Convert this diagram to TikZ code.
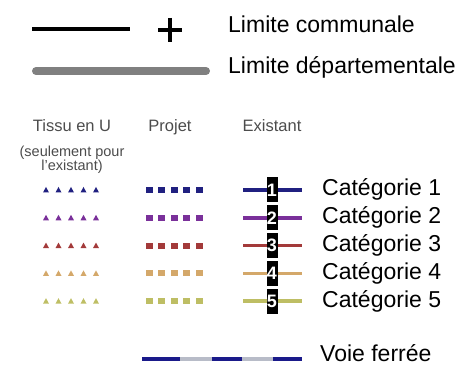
\documentclass[tikz,border=0pt]{standalone}
\usepackage{fontspec}
\setmainfont{Liberation Sans}
\usetikzlibrary{positioning}
\def\rowsep{27.8}
\def\firstrow{190}

\definecolor{catA}{RGB}{32,32,128}
\definecolor{catB}{RGB}{122,48,154}
\definecolor{catC}{RGB}{163,58,58}
\definecolor{catD}{RGB}{212,168,106}
\definecolor{catE}{RGB}{190,190,100}
\definecolor{railblue}{RGB}{26,26,138}
\definecolor{railgray}{RGB}{184,188,200}

\begin{document}
\begin{tikzpicture}[x=1pt,y=-1pt]
	\tikzstyle{label text}=[anchor=base west,inner sep=0pt,font=\fontsize{23}{26}\selectfont]
	\tikzstyle{head text}=[anchor=base,inner sep=0pt,text=black!70,font=\fontsize{16.5}{18}\selectfont]
	\tikzstyle{note text}=[anchor=base,inner sep=0pt,text=black!70,font=\fontsize{14.5}{16}\selectfont]
	\tikzstyle{cat line}=[line width=3.5pt]
	\tikzstyle{num box}=[fill=black,text=white,inner sep=0pt,minimum width=11pt,minimum height=25pt,font=\bfseries\fontsize{18}{18}\selectfont]

	\useasboundingbox (0,0) rectangle (472,366);

	% Limites
	\coordinate (comA) at (32,29);
	\coordinate (comB) at (130,29);
	\draw[line width=4.5pt] (comA) -- (comB);
	\coordinate (plusT) at (170,18);
	\coordinate (plusB) at (170,42);
	\coordinate (plusL) at (158,30);
	\coordinate (plusR) at (182,30);
	\draw[line width=4pt] (plusT) -- (plusB) (plusL) -- (plusR);
	\node[label text] (com) at (228,33) {Limite communale};

	\coordinate (depA) at (36,71);
	\coordinate (depB) at (206,71);
	\draw[line width=8pt,black!50,line cap=round] (depA) -- (depB);
	\node[label text] (dep) at (228,74) {Limite départementale};

	% Column heads
	\node[head text] (tissu) at (72,132) {Tissu en U};
	\node[head text] (projet) at (170,132) {Projet};
	\node[head text] (existant) at (272,132) {Existant};
	\node[note text] (noteA) at (72,157) {(seulement pour};
	\node[note text] (noteB) at (72,171) {l'existant)};

	% Categories
	\foreach \n/\col in {1/catA,2/catB,3/catC,4/catD,5/catE}{
		\pgfmathsetmacro{\y}{\firstrow+(\n-1)*\rowsep}
		\foreach \i in {0,...,4}{
			\pgfmathsetmacro{\tx}{46+12.5*\i}
			\pgfmathsetmacro{\sx}{149+12.5*\i}
			\fill[\col] (\tx-3,\y+2.5) -- (\tx+3,\y+2.5) -- (\tx,\y-3) -- cycle;
			\fill[\col] (\sx-3.5,\y-3) rectangle (\sx+3.5,\y+3);
		}
		\coordinate (L-\n) at (243,\y);
		\coordinate (R-\n) at (302,\y);
		\draw[cat line,\col] (L-\n) -- (R-\n);
		\node[num box] (N-\n) at (272,\y) {\n};
		\node[label text] (C-\n) at (322,\y+6) {Catégorie \n};
	}

	% Voie ferree
	\coordinate (railA) at (142,359);
	\coordinate (railB) at (302,359);
	\draw[line width=4pt,railgray] (railA) -- (railB);
	\foreach \a/\b in {142/180,212/242,273/302}
		\draw[line width=4pt,railblue] (\a,359) -- (\b,359);
	\node[label text] (rail) at (320,362) {Voie ferrée};
\end{tikzpicture}
\end{document}
